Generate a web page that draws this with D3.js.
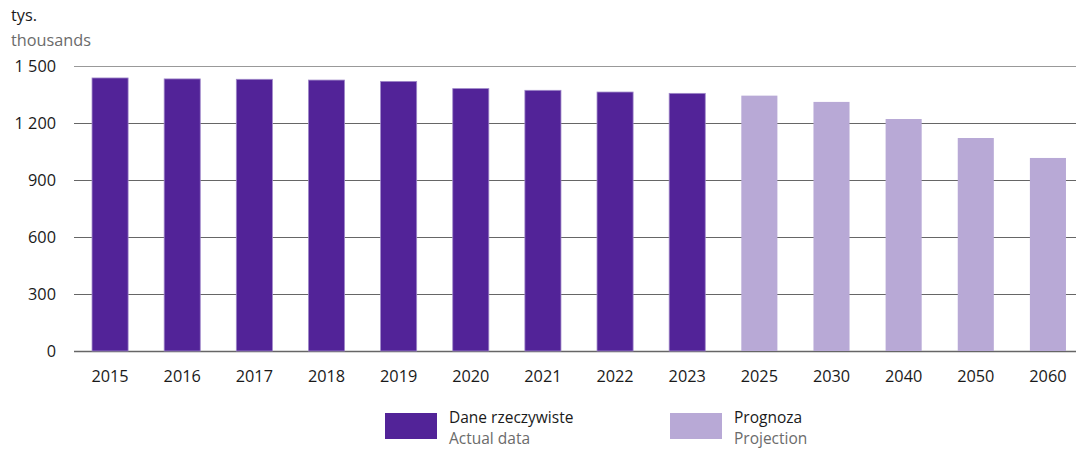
<!DOCTYPE html>
<html>
<head>
<meta charset="utf-8">
<script src="https://cdn.jsdelivr.net/npm/d3@7"></script>
<style>
  body { margin: 0; background: #fff; }
  svg text { font-family: "Open Sans", "Noto Sans", sans-serif; }
</style>
</head>
<body>
<svg id="chart" width="1076" height="449"></svg>
<script>
// lata i wartości (tys.)
var years = ["2015", "2016", "2017", "2018", "2019", "2020", "2021", "2022", "2023", "2025", "2030", "2040", "2050", "2060"];
var values = [1437, 1432, 1430, 1426, 1419, 1381, 1372, 1363, 1356, 1344, 1311, 1221, 1121, 1016];
var kinds = ["actual", "actual", "actual", "actual", "actual", "actual", "actual", "actual", "actual", "proj", "proj", "proj", "proj", "proj"];
var yTicks = [0, 300, 600, 900, 1200, 1500];
var legendItems = [
    { key: "actual", pl: "Dane rzeczywiste", en: "Actual data" },
    { key: "proj", pl: "Prognoza", en: "Projection" }
];

var colors = { actual: "#522398", proj: "#b8a9d6" };
var fs = 16.3;

var svg = d3.select("#chart");

var x = d3.scaleBand()
    .domain(years)
    .range([74, 1084])
    .paddingInner(0.5)
    .paddingOuter(0.25);

var y = d3.scaleLinear()
    .domain([0, 1500])
    .range([351, 66]);

// linie siatki
svg.append("g")
    .selectAll("line")
    .data(yTicks)
    .enter()
    .append("line")
    .attr("x1", 74)
    .attr("x2", 1076)
    .attr("y1", function (d) { return y(d) + 0.5; })
    .attr("y2", function (d) { return y(d) + 0.5; })
    .attr("stroke", function (d) { return d === 1500 ? "#999" : "#666"; })
    .attr("stroke-width", function (d) { return d === 0 ? 1.5 : 1; });

// etykiety osi Y
svg.append("g")
    .selectAll("text")
    .data(yTicks)
    .enter()
    .append("text")
    .attr("x", 56)
    .attr("y", function (d) { return y(d); })
    .attr("dy", 5.5)
    .attr("text-anchor", "end")
    .attr("font-size", fs)
    .attr("fill", "#1a1a1a")
    .text(function (d) { return d3.format(",")(d).replace(",", " "); });

// słupki
svg.append("g")
    .selectAll("rect")
    .data(values)
    .enter()
    .append("rect")
    .attr("x", function (d, i) { return x(years[i]); })
    .attr("y", function (d) { return y(d); })
    .attr("width", x.bandwidth())
    .attr("height", function (d) { return y(0) - y(d); })
    .attr("fill", function (d, i) { return colors[kinds[i]]; })
    .attr("stroke", function (d, i) { return kinds[i] === "actual" ? "#9f88c9" : "none"; })
    .attr("stroke-width", 0.8);

// etykiety osi X
svg.append("g")
    .selectAll("text")
    .data(years)
    .enter()
    .append("text")
    .attr("x", function (d) { return x(d) + x.bandwidth() / 2; })
    .attr("y", 382)
    .attr("text-anchor", "middle")
    .attr("font-size", fs)
    .attr("fill", "#1a1a1a")
    .text(function (d) { return d; });

// jednostka
svg.append("text").attr("x", 11).attr("y", 21).attr("font-size", fs).attr("fill", "#1a1a1a").text("tys.");
svg.append("text").attr("x", 11).attr("y", 46).attr("font-size", fs).attr("fill", "#6b6b6b").text("thousands");

// legenda
var lg = svg.append("g")
    .selectAll("g")
    .data(legendItems)
    .enter()
    .append("g")
    .attr("transform", function (d, i) { return "translate(" + (385 + i * 285) + ",413)"; });

lg.append("rect")
    .attr("width", 52)
    .attr("height", 26)
    .attr("fill", function (d) { return colors[d.key]; });

lg.append("text")
    .attr("x", 64)
    .attr("y", 10)
    .attr("font-size", 15.5)
    .attr("fill", "#1a1a1a")
    .text(function (d) { return d.pl; });

lg.append("text")
    .attr("x", 64)
    .attr("y", 31)
    .attr("font-size", 15.5)
    .attr("fill", "#6b6b6b")
    .text(function (d) { return d.en; });
</script>
</body>
</html>
